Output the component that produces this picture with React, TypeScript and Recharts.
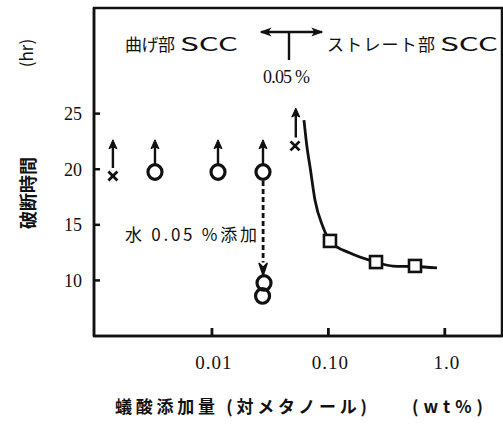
import React from 'react';
import {
  ComposedChart,
  XAxis,
  YAxis,
  Scatter,
  Line,
  ReferenceLine,
  ReferenceArea,
} from 'recharts';

// ---- data ----
const xDomain = [0.00097, 3.1];
const yDomain = [5, 34.5];
const xTicks = [0.01, 0.1, 1];
const xTickLabels = ['0.01', '0.10', '1.0'];
const yTicks = [10, 15, 20, 25];

// 曲げ部SCC (no failure within test, arrows up)
const crossPoints = [
  { x: 0.00141, y: 19.4 },
  { x: 0.0517, y: 22.1 },
];
const circleTop = [
  { x: 0.00324, y: 19.75 },
  { x: 0.01127, y: 19.75 },
  { x: 0.02744, y: 19.75 },
];
// 水0.05%添加
const circleWater = [
  { x: 0.028, y: 9.77 },
  { x: 0.0272, y: 8.6 },
];
// ストレート部SCC
const squarePoints = [
  { x: 0.1032, y: 13.55 },
  { x: 0.2565, y: 11.65 },
  { x: 0.5547, y: 11.3 },
];
const curve = [
  { x: 0.0617, y: 24.42 },
  { x: 0.0655, y: 22.0 },
  { x: 0.0696, y: 20.2 },
  { x: 0.0767, y: 17.23 },
  { x: 0.0899, y: 14.8 },
  { x: 0.1032, y: 13.54 },
  { x: 0.1535, y: 12.46 },
  { x: 0.2565, y: 11.65 },
  { x: 0.3589, y: 11.29 },
  { x: 0.5547, y: 11.25 },
  { x: 0.857, y: 11.12 },
];
// arrow shafts: x, from y0 to y1
const upShafts = [
  { x: 0.00141, y0: 20.11, y1: 22.3 },
  { x: 0.00324, y0: 20.45, y1: 22.3 },
  { x: 0.01127, y0: 20.45, y1: 22.3 },
  { x: 0.02744, y0: 20.45, y1: 22.3 },
  { x: 0.0525, y0: 22.85, y1: 25.2 },
];
const upHeads = [
  { x: 0.00141, y: 22.65 },
  { x: 0.00324, y: 22.65 },
  { x: 0.01127, y: 22.65 },
  { x: 0.02744, y: 22.65 },
  { x: 0.0525, y: 25.5 },
];
const downShaft = { x: 0.0275, y0: 18.95, y1: 11.6 };
const downHeads = [{ x: 0.0275, y: 10.45 }];
// 0.05% boundary marker
const boundary = { x: 0.0459, xl: 0.0265, xr: 0.088, y: 32.34, yb: 29.82 };
const leftHeads = [{ x: 0.0256, y: 32.34 }];
const rightHeads = [{ x: 0.0905, y: 32.34 }];

const INK = '#111';
const serif = 'Liberation Serif, DejaVu Serif, serif';
const jp = 'Noto Sans CJK JP';

const Y_MARGIN = 12;
const X_MARGIN = 20;

// custom ticks: label + inward tick mark
const YTick = (p: any) => {
  const ax = p.x + Y_MARGIN;
  return (
    <g>
      <line x1={ax} y1={p.y} x2={ax + 6} y2={p.y} stroke={INK} strokeWidth={2.5} />
      <text x={p.x} y={p.y} dy="0.35em" textAnchor="end" fill={INK} fontSize={18} fontFamily={serif}>
        {p.payload.value}
      </text>
    </g>
  );
};
const XTick = (p: any) => {
  const ay = p.y - X_MARGIN;
  const v = p.payload.value;
  return (
    <g>
      <line x1={p.x} y1={ay} x2={p.x} y2={ay - 8} stroke={INK} strokeWidth={2.8} />
      <text x={p.x + 2} y={p.y} dy="0.71em" textAnchor="middle" fill={INK} fontSize={19} fontFamily={serif} letterSpacing={1}>
        {xTickLabels[xTicks.indexOf(v)] ?? String(v)}
      </text>
    </g>
  );
};

const CrossShape = (p: any) => (
  <g>
    <line x1={p.cx - 4.5} y1={p.cy - 4.5} x2={p.cx + 4.5} y2={p.cy + 4.5} stroke={INK} strokeWidth={2.8} />
    <line x1={p.cx - 4.5} y1={p.cy + 4.5} x2={p.cx + 4.5} y2={p.cy - 4.5} stroke={INK} strokeWidth={2.8} />
  </g>
);
const CircleShape = (p: any) => (
  <ellipse cx={p.cx} cy={p.cy} rx={7} ry={7.3} fill="none" stroke={INK} strokeWidth={3.2} />
);
const SquareShape = (p: any) => (
  <rect x={p.cx - 6} y={p.cy - 6} width={12} height={12} fill="#fff" stroke={INK} strokeWidth={2.6} />
);
const UpHead = (p: any) => (
  <path d={`M${p.cx},${p.cy} L${p.cx - 4},${p.cy + 9} L${p.cx},${p.cy + 7} L${p.cx + 4},${p.cy + 9} Z`} fill={INK} stroke={INK} strokeWidth={1} strokeLinejoin="round" />
);
const DownHead = (p: any) => (
  <path d={`M${p.cx},${p.cy} L${p.cx - 4},${p.cy - 12} L${p.cx},${p.cy - 8} L${p.cx + 4},${p.cy - 12} Z`} fill={INK} stroke={INK} strokeWidth={1.5} strokeLinejoin="round" />
);
const LeftHead = (p: any) => (
  <path d={`M${p.cx},${p.cy} L${p.cx + 12},${p.cy - 4.5} L${p.cx + 9},${p.cy} L${p.cx + 12},${p.cy + 4.5} Z`} fill={INK} />
);
const RightHead = (p: any) => (
  <path d={`M${p.cx},${p.cy} L${p.cx - 12},${p.cy - 4.5} L${p.cx - 9},${p.cy} L${p.cx - 12},${p.cy + 4.5} Z`} fill={INK} />
);

export default function App() {
  return (
    <div style={{ position: 'absolute', left: 0, top: 0, width: 503, height: 428, background: '#fff' }}>
      <ComposedChart
        width={503}
        height={428}
        margin={{ top: 8, right: 1, bottom: 0, left: 0 }}
      >
        <XAxis
          dataKey="x"
          type="number"
          scale="log"
          domain={xDomain}
          allowDataOverflow
          ticks={xTicks}
          height={92}
          tickSize={0}
          tickMargin={X_MARGIN}
          axisLine={{ stroke: INK, strokeWidth: 2.5 }}
          tickLine={false}
          tick={XTick}
          interval={0}
        />
        <YAxis
          dataKey="y"
          type="number"
          domain={yDomain}
          allowDataOverflow
          ticks={yTicks}
          width={94}
          tickSize={0}
          tickMargin={Y_MARGIN}
          axisLine={{ stroke: INK, strokeWidth: 2.5 }}
          tickLine={false}
          tick={YTick}
          interval={0}
        />
        <ReferenceArea
          x1={xDomain[0]}
          x2={xDomain[1]}
          y1={yDomain[0]}
          y2={yDomain[1]}
          fill="none"
          stroke={INK}
          strokeWidth={2.5}
          ifOverflow="visible"
        />
        {upShafts.map((s, i) => (
          <ReferenceLine
            key={'u' + i}
            segment={[{ x: s.x, y: s.y0 }, { x: s.x, y: s.y1 }]}
            stroke={INK}
            strokeWidth={2.4}
          />
        ))}
        <ReferenceLine
          segment={[{ x: downShaft.x, y: downShaft.y0 }, { x: downShaft.x, y: downShaft.y1 }]}
          stroke={INK}
          strokeWidth={2.8}
          strokeDasharray="5 3"
        />
        <ReferenceLine
          segment={[{ x: boundary.xl, y: boundary.y }, { x: boundary.xr, y: boundary.y }]}
          stroke={INK}
          strokeWidth={2.6}
        />
        <ReferenceLine
          segment={[{ x: boundary.x, y: boundary.y }, { x: boundary.x, y: boundary.yb }]}
          stroke={INK}
          strokeWidth={2.4}
        />
        <Line
          data={curve}
          dataKey="y"
          type="monotone"
          stroke={INK}
          strokeWidth={2.8}
          dot={false}
          activeDot={false}
          isAnimationActive={false}
        />
        <Scatter data={upHeads} dataKey="y" shape={UpHead} isAnimationActive={false} />
        <Scatter data={downHeads} dataKey="y" shape={DownHead} isAnimationActive={false} />
        <Scatter data={leftHeads} dataKey="y" shape={LeftHead} isAnimationActive={false} />
        <Scatter data={rightHeads} dataKey="y" shape={RightHead} isAnimationActive={false} />
        <Scatter data={crossPoints} dataKey="y" shape={CrossShape} isAnimationActive={false} />
        <Scatter data={circleTop} dataKey="y" shape={CircleShape} isAnimationActive={false} />
        <Scatter data={circleWater} dataKey="y" shape={CircleShape} isAnimationActive={false} />
        <Scatter data={squarePoints} dataKey="y" shape={SquareShape} isAnimationActive={false} />
      </ComposedChart>
      <svg
        width={503}
        height={428}
        style={{ position: 'absolute', left: 0, top: 0, pointerEvents: 'none' }}
      >
        <g fill={INK}>
          <text x={125} y={51} fontFamily={jp} fontSize={17} textLength={50} lengthAdjust="spacing">曲げ部</text>
          <text x={180} y={51} fontFamily={jp} fontSize={19} textLength={58} lengthAdjust="spacingAndGlyphs">SCC</text>
          <text x={327} y={51} fontFamily={jp} fontSize={17} textLength={108} lengthAdjust="spacing">ストレート部</text>
          <text x={440} y={51} fontFamily={jp} fontSize={19} textLength={58} lengthAdjust="spacingAndGlyphs">SCC</text>
          <text x={263} y={83} fontFamily={serif} fontSize={18} textLength={47} lengthAdjust="spacing">0.05 %</text>
          <text x={125} y={241} fontFamily={jp} fontSize={17} textLength={132} lengthAdjust="spacing">水 0.05 %添加</text>
          <text
            x={0}
            y={0}
            transform="translate(33,53) rotate(-90)"
            textAnchor="middle"
            fontFamily={jp}
            fontSize={17}
          >
            (hr)
          </text>
          <text
            x={0}
            y={0}
            transform="translate(35,193) rotate(-90)"
            textAnchor="middle"
            fontFamily={jp}
            fontSize={18}
            fontWeight="bold"
          >
            破断時間
          </text>
          <text x={115} y={413} fontFamily={jp} fontSize={17} fontWeight="bold" textLength={252} lengthAdjust="spacing">蟻酸添加量 (対メタノール)</text>
          <text x={412} y={413} fontFamily={jp} fontSize={17} fontWeight="bold" textLength={71} lengthAdjust="spacing">(wt%)</text>
        </g>
      </svg>
    </div>
  );
}
